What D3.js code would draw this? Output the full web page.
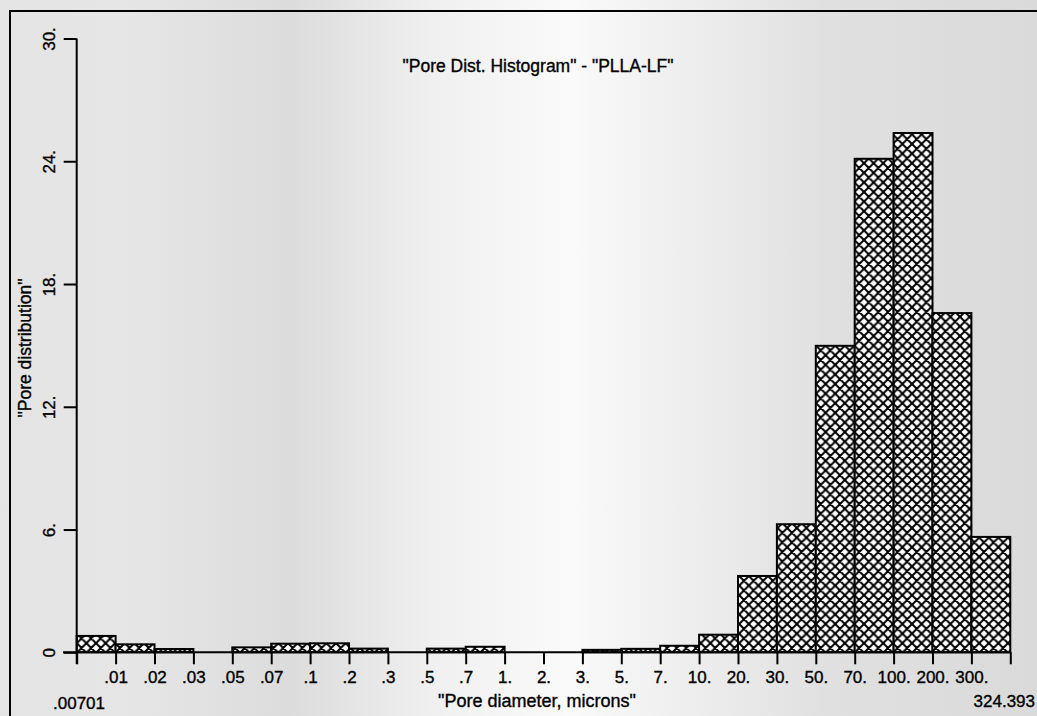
<!DOCTYPE html>
<html>
<head>
<meta charset="utf-8">
<script src="https://cdn.jsdelivr.net/npm/d3@7"></script>
<style>
  html, body { margin: 0; padding: 0; background: #ffffff; }
  svg { display: block; }
  text { font-family: "Liberation Sans", Arial, sans-serif; fill: #000; stroke: #000; stroke-width: 0.35px; }
</style>
</head>
<body>
<script>
// ---- data ----
const edgeLabels = ["", ".01", ".02", ".03", ".05", ".07", ".1", ".2", ".3", ".5", ".7", "1.", "2.", "3.", "5.", "7.", "10.", "20.", "30.", "50.", "70.", "100.", "200.", "300.", ""];
const binValues = [0.8, 0.39, 0.16, 0, 0.24, 0.42, 0.44, 0.18, 0, 0.18, 0.27, 0, 0, 0.12, 0.17, 0.32, 0.86, 3.73, 6.26, 14.98, 24.12, 25.38, 16.58, 5.64];
const yTicks = [0, 6, 12, 18, 24, 30];
const yTickLabels = ["0", "6.", "12.", "18.", "24.", "30."];
const minLabel = ".00701";
const maxLabel = "324.393";
const titleText = "\"Pore Dist. Histogram\" - \"PLLA-LF\"";
const xTitle = "\"Pore diameter, microns\"";
const yTitle = "\"Pore distribution\"";

const W = 1037, H = 716;
const svg = d3.select("body").append("svg").attr("width", W).attr("height", H);

// background (scanned paper look)
const defs = svg.append("defs");
const bg = defs.append("linearGradient").attr("id", "bg").attr("x1", "0").attr("x2", "1").attr("y1", "0").attr("y2", "0");
[[0, "#e4e4e4"], [0.12, "#e6e6e6"], [0.28, "#dcdcdc"], [0.42, "#f0f0f0"], [0.55, "#fafafa"], [0.66, "#eeeeee"], [0.8, "#e0e0e0"], [1, "#dadada"]]
  .forEach(([o, c]) => bg.append("stop").attr("offset", o).attr("stop-color", c));
svg.append("rect").attr("width", W).attr("height", H).attr("fill", "url(#bg)");

// crosshatch pattern
const P = 9.6;
const pat = defs.append("pattern").attr("id", "hatch").attr("patternUnits", "userSpaceOnUse")
  .attr("width", P).attr("height", P);
pat.append("rect").attr("width", P).attr("height", P).attr("fill", "#fff");
pat.append("path")
  .attr("d", `M${-P},0 L${P},${2 * P} M0,${-P} L${2 * P},${P} M${-P / 2},${-P / 2} L${1.5 * P},${1.5 * P}` +
             ` M${-P},${P} L${P},${-P} M0,${2 * P} L${2 * P},0 M${-P / 2},${1.5 * P} L${1.5 * P},${-P / 2}`)
  .attr("stroke", "#000").attr("stroke-width", 2);

// frame
svg.append("line").attr("x1", 10).attr("x2", 10).attr("y1", 10).attr("y2", H).attr("stroke", "#000").attr("stroke-width", 2);
svg.append("line").attr("x1", 10).attr("x2", W).attr("y1", 11).attr("y2", 11).attr("stroke", "#000").attr("stroke-width", 2);

// scales
const x0 = 76.7, x1 = 1010.3, yBase = 652.3, yTop = 38.5;
const x = d3.scaleLinear().domain([0, binValues.length]).range([x0, x1]);
const y = d3.scaleLinear().domain([0, 30]).range([yBase, yTop]);

// bars
svg.append("g").selectAll("rect")
  .data(binValues.map((v, i) => ({ v, i })).filter(d => d.v > 0))
  .join("rect")
  .attr("x", d => x(d.i))
  .attr("width", d => x(d.i + 1) - x(d.i))
  .attr("y", d => y(d.v))
  .attr("height", d => yBase - y(d.v))
  .attr("fill", "url(#hatch)")
  .attr("stroke", "#000").attr("stroke-width", 2);

// x axis
const xAxis = d3.axisBottom(x)
  .tickValues(d3.range(edgeLabels.length))
  .tickFormat(i => edgeLabels[i])
  .tickSize(12).tickPadding(7);
const gx = svg.append("g").attr("transform", `translate(0,${yBase})`).call(xAxis);
gx.select(".domain").remove();
gx.selectAll(".tick line").attr("stroke", "#000").attr("stroke-width", 2);
gx.selectAll(".tick text").attr("font-size", 17).attr("font-family", "Liberation Sans, Arial, sans-serif");
svg.append("line").attr("x1", 63).attr("x2", x1).attr("y1", yBase).attr("y2", yBase).attr("stroke", "#000").attr("stroke-width", 2);

// y axis
const yAxis = d3.axisLeft(y).tickValues(yTicks).tickFormat((d, i) => yTickLabels[i]).tickSize(13);
const gy = svg.append("g").attr("transform", `translate(${x0},0)`).call(yAxis);
gy.select(".domain").remove();
gy.selectAll(".tick line").attr("stroke", "#000").attr("stroke-width", 2);
gy.selectAll(".tick text")
  .attr("font-size", 17).attr("font-family", "Liberation Sans, Arial, sans-serif")
  .attr("transform", "rotate(-90)")
  .attr("x", 0).attr("y", -22).attr("dy", 0)
  .attr("text-anchor", "middle");
svg.append("line").attr("x1", x0).attr("x2", x0).attr("y1", yTop).attr("y2", 664).attr("stroke", "#000").attr("stroke-width", 2);

// texts
svg.append("text").attr("x", 538).attr("y", 72).attr("text-anchor", "middle").attr("font-size", 17.5).text(titleText);
svg.append("text").attr("x", 537).attr("y", 707).attr("text-anchor", "middle").attr("font-size", 18).text(xTitle);
svg.append("text").attr("x", 53).attr("y", 709).attr("font-size", 17).text(minLabel);
svg.append("text").attr("x", 1035).attr("y", 707).attr("text-anchor", "end").attr("font-size", 17).text(maxLabel);
svg.append("text").attr("transform", "translate(31,348) rotate(-90)").attr("text-anchor", "middle").attr("font-size", 17.5).text(yTitle);
</script>
</body>
</html>
